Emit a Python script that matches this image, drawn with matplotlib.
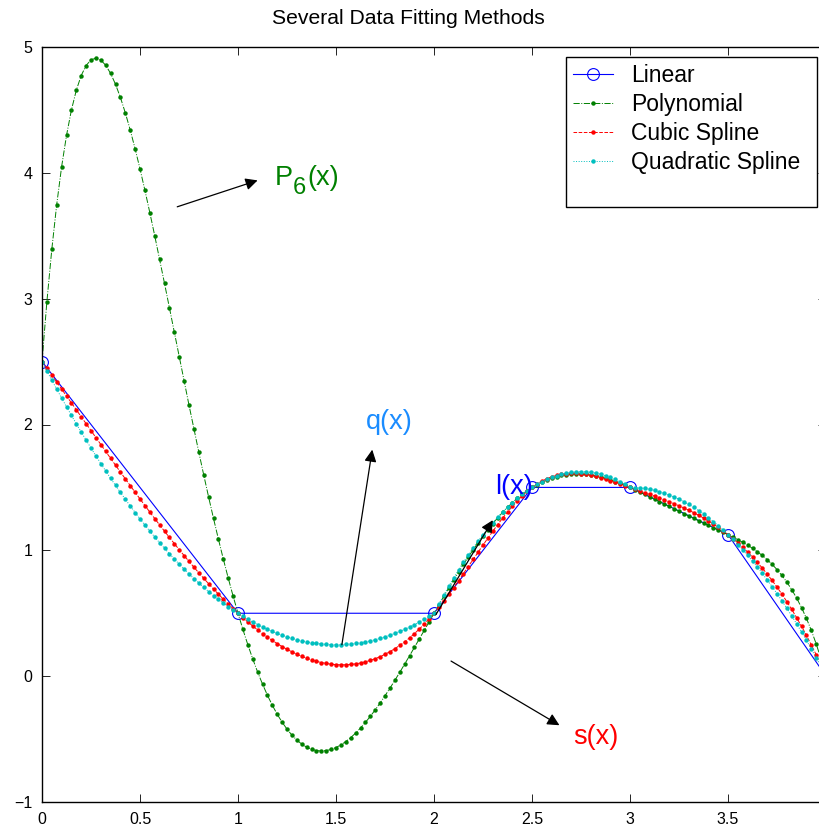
import matplotlib

matplotlib.use("Agg")
import matplotlib.pyplot as plt
import numpy as np

# knots of the fit
x_data = [0.0, 1.0, 2.0, 2.5, 3.0, 3.5, 4.0]
y_data = [2.5, 0.5, 0.5, 1.5, 1.5, 1.125, 0.0]
# point triples used by the piecewise quadratic
quad_groups = [(0, 1, 2), (2, 3, 4), (4, 5, 6)]
series_labels = ["Linear", "Polynomial", "Cubic Spline", "Quadratic Spline"]
title_text = "Several Data Fitting Methods"
x_ticks = [0, 0.5, 1, 1.5, 2, 2.5, 3, 3.5]
x_tick_labels = ["0", "0.5", "1", "1.5", "2", "2.5", "3", "3.5"]
y_ticks = [-1, 0, 1, 2, 3, 4, 5]
y_tick_labels = ["\u22121", "0", "1", "2", "3", "4", "5"]
eval_step = 0.025

plt.rcParams["font.family"] = ["Liberation Sans", "DejaVu Sans"]


def cubic_not_a_knot(x, y, xx):
    x = np.asarray(x)
    y = np.asarray(y)
    n = len(x) - 1
    A = np.zeros((4 * n, 4 * n))
    b = np.zeros(4 * n)
    row = 0
    for i in range(n):
        h = x[i + 1] - x[i]
        A[row, 4 * i] = 1
        b[row] = y[i]
        row += 1
        A[row, 4 * i:4 * i + 4] = [1, h, h * h, h ** 3]
        b[row] = y[i + 1]
        row += 1
    for i in range(n - 1):
        h = x[i + 1] - x[i]
        A[row, 4 * i:4 * i + 4] = [0, 1, 2 * h, 3 * h * h]
        A[row, 4 * (i + 1) + 1] = -1
        row += 1
        A[row, 4 * i:4 * i + 4] = [0, 0, 2, 6 * h]
        A[row, 4 * (i + 1) + 2] = -2
        row += 1
    for i in (0, n - 2):
        A[row, 4 * i + 3] = 1
        A[row, 4 * (i + 1) + 3] = -1
        row += 1
    c = np.linalg.solve(A, b).reshape(n, 4)
    idx = np.clip(np.searchsorted(x, xx, side="right") - 1, 0, n - 1)
    t = xx - x[idx]
    return c[idx, 0] + c[idx, 1] * t + c[idx, 2] * t ** 2 + c[idx, 3] * t ** 3


def piecewise_quadratic(x, y, groups, xx):
    x = np.asarray(x)
    y = np.asarray(y)
    out = np.zeros_like(xx)
    for g in groups:
        g = list(g)
        lo, hi = x[g[0]], x[g[-1]]
        mask = (xx >= lo) & (xx <= hi)
        out[mask] = np.polyval(np.polyfit(x[g], y[g], 2), xx[mask])
    return out


xx = np.arange(0, 4 + eval_step / 2, eval_step)
y_poly = np.polyval(np.polyfit(x_data, y_data, len(x_data) - 1), xx)
y_cubic = cubic_not_a_knot(x_data, y_data, xx)
y_quad = piecewise_quadratic(x_data, y_data, quad_groups, xx)

W, H = 819, 832
fig = plt.figure(figsize=(W / 100, H / 100), dpi=100)
ax = fig.add_axes([42 / W, 30 / H, 784 / W, 755 / H])

green = (0, 0.5, 0)
cyan = (0, 0.75, 0.75)
h_lin, = ax.plot(x_data, y_data, "-", color="blue", lw=0.8, marker="o", ms=8.5,
                 mfc="none", mec="blue", mew=0.8)
h_poly, = ax.plot(xx, y_poly, "-.", color=green, lw=0.7, marker="o", ms=3.2, mew=0)
h_cub, = ax.plot(xx, y_cubic, "--", color="red", lw=0.7, marker="o", ms=3.2, mew=0)
h_quad, = ax.plot(xx, y_quad, ":", color=cyan, lw=0.7, marker="o", ms=3.2, mew=0)

ax.set_xlim(0, 4)
ax.set_ylim(-1, 5)
ax.set_xticks(x_ticks, x_tick_labels)
ax.set_yticks(y_ticks, y_tick_labels)
ax.tick_params(direction="in", length=6, width=0.6, top=True, right=True,
               labelsize=11.5, pad=7)
for s in ax.spines.values():
    s.set_linewidth(1.0)

arrow = dict(arrowstyle="-|>", color="black", lw=0.9, mutation_scale=18,
             shrinkA=0, shrinkB=0)
ax.annotate("", xy=(1.10, 3.94), xytext=(0.69, 3.73), arrowprops=arrow)
ax.text(1.185, 3.96, "P", color=green, fontsize=19.5, va="center")
ax.annotate("6", xy=(1.185, 3.96), xytext=(13.5, -7.5), textcoords="offset points",
            color=green, fontsize=17, va="center")
ax.annotate("(x)", xy=(1.185, 3.96), xytext=(23.5, 0), textcoords="offset points",
            color=green, fontsize=19.5, va="center")
ax.annotate("", xy=(1.685, 1.80), xytext=(1.53, 0.25), arrowprops=arrow)
ax.text(1.65, 2.02, "q(x)", color=(0.1, 0.55, 1.0), fontsize=19.5, va="center")
ax.annotate("", xy=(2.30, 1.24), xytext=(2.01, 0.49), arrowprops=arrow)
ax.text(2.31, 1.50, "l(x)", color="blue", fontsize=19.5, va="center")
ax.annotate("", xy=(2.64, -0.39), xytext=(2.087, 0.12), arrowprops=arrow)
ax.text(2.71, -0.485, "s(x)", color="red", fontsize=19.5, va="center")

blank, = ax.plot([], [], color="none")
leg = ax.legend([h_lin, h_poly, h_cub, h_quad, blank], series_labels + [" "],
                loc="upper left", bbox_to_anchor=(566 / W, 1 - 205 / H, 251 / W, 148 / H),
                bbox_transform=fig.transFigure, mode="expand", fontsize=16.5,
                frameon=True, fancybox=False, framealpha=1, edgecolor="black",
                handlelength=1.75, handletextpad=0.8, labelspacing=0.27,
                borderpad=0.3, borderaxespad=0, markerscale=1.0)
leg.get_frame().set_linewidth(1.0)
leg.get_texts()[-1].set_fontsize(12)
leg._legend_box.align = "left"

fig.text(408 / W, 1 - 18 / H, title_text, ha="center", va="center", fontsize=15.2)

fig.savefig("out.png", dpi=100)
